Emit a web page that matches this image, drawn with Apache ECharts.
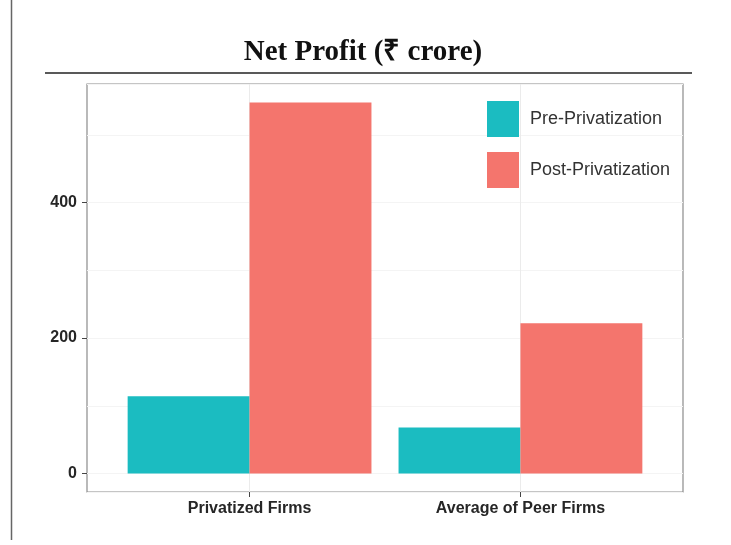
<!DOCTYPE html>
<html>
<head>
<meta charset="utf-8">
<title>Net Profit</title>
<script src="https://cdn.jsdelivr.net/npm/echarts@6/dist/echarts.min.js"></script>
<style>
    html, body { margin: 0; padding: 0; background: #fff; }
    #chart { width: 731px; height: 545px; }
</style>
</head>
<body>
<div id="chart"></div>
<script>
// data
const categories = ['Privatized Firms', 'Average of Peer Firms'];
const seriesNames = ['Pre-Privatization', 'Post-Privatization'];
const preValues = [114, 68];
const postValues = [548, 222];
const yLabelValues = [0, 200, 400];

const colors = ['#1bbcc1', '#f4756d'];

// ggplot-like 5% expansion of the value range
const yMin = -27.4;
const yMax = 575.4;

const chart = echarts.init(document.getElementById('chart'));

const labelFont = {
    fontFamily: 'Liberation Sans, Arial, sans-serif',
    fontWeight: 'bold',
    fontSize: 16,
    color: '#262626'
};

const option = {
    animation: false,
    title: {
        text: 'Net Profit (₹ crore)',
        left: 358,
        textAlign: 'center',
        top: 33,
        textStyle: {
            fontFamily: 'Liberation Serif, Times New Roman, serif',
            fontWeight: 'bold',
            fontSize: 29,
            color: '#111'
        }
    },
    graphic: [
        // rule under the title
        { type: 'line', shape: { x1: 45, y1: 73, x2: 692, y2: 73 }, style: { stroke: '#222', lineWidth: 1.5 } },
        // page edge on the left
        { type: 'line', shape: { x1: 11.5, y1: 0, x2: 11.5, y2: 540 }, style: { stroke: '#666', lineWidth: 1.5 } }
    ],
    legend: {
        data: seriesNames,
        orient: 'vertical',
        left: 487,
        top: 101,
        padding: 0,
        itemWidth: 32,
        itemHeight: 36,
        itemGap: 15,
        icon: 'rect',
        textStyle: {
            fontFamily: 'Liberation Sans, Arial, sans-serif',
            fontSize: 18,
            color: '#333',
            padding: [6, 0, 0, 6]
        }
    },
    grid: [
        // panel with border and grid lines
        { left: 87, right: 48, top: 84, bottom: 53, show: true, borderColor: '#8c8c8c', borderWidth: 1.2, backgroundColor: '#fff' },
        // bars, one band per category
        { left: 114.1, right: 75.1, top: 84, bottom: 53 }
    ],
    xAxis: [
        {
            gridIndex: 0,
            type: 'value',
            min: 0.4,
            max: 2.6,
            minInterval: 1,
            maxInterval: 1,
            axisLine: { show: false, onZero: false },
            axisLabel: { show: false },
            axisTick: { show: true, customValues: [1, 2], length: 5, lineStyle: { color: '#444', width: 1 } },
            splitLine: { show: true, lineStyle: { color: '#ebebeb', width: 1 } }
        },
        {
            gridIndex: 1,
            type: 'category',
            data: categories,
            axisLine: { show: false, onZero: false },
            axisTick: { show: false },
            splitLine: { show: false },
            axisLabel: Object.assign({ margin: 9 }, labelFont)
        }
    ],
    yAxis: [
        {
            gridIndex: 0,
            type: 'value',
            min: yMin,
            max: yMax,
            minInterval: 200,
            maxInterval: 200,
            axisLine: { show: false },
            axisTick: { show: true, customValues: yLabelValues, length: 5, lineStyle: { color: '#444', width: 1 } },
            axisLabel: Object.assign({ customValues: yLabelValues, margin: 10 }, labelFont),
            splitLine: { show: true, lineStyle: { color: '#ebebeb', width: 1 } }
        },
        {
            // minor grid lines
            gridIndex: 0,
            type: 'value',
            min: yMin,
            max: yMax,
            minInterval: 100,
            maxInterval: 100,
            axisLine: { show: false },
            axisTick: { show: false },
            axisLabel: { show: false },
            splitLine: { show: true, lineStyle: { color: '#f4f4f4', width: 1 } }
        },
        {
            gridIndex: 1,
            type: 'value',
            min: yMin,
            max: yMax,
            show: false
        }
    ],
    series: [
        {
            name: seriesNames[0],
            type: 'bar',
            xAxisIndex: 1,
            yAxisIndex: 2,
            data: preValues,
            barGap: '0%',
            barCategoryGap: '10%',
            itemStyle: { color: colors[0] }
        },
        {
            name: seriesNames[1],
            type: 'bar',
            xAxisIndex: 1,
            yAxisIndex: 2,
            data: postValues,
            barGap: '0%',
            barCategoryGap: '10%',
            itemStyle: { color: colors[1] }
        }
    ]
};

chart.setOption(option);
</script>
</body>
</html>
